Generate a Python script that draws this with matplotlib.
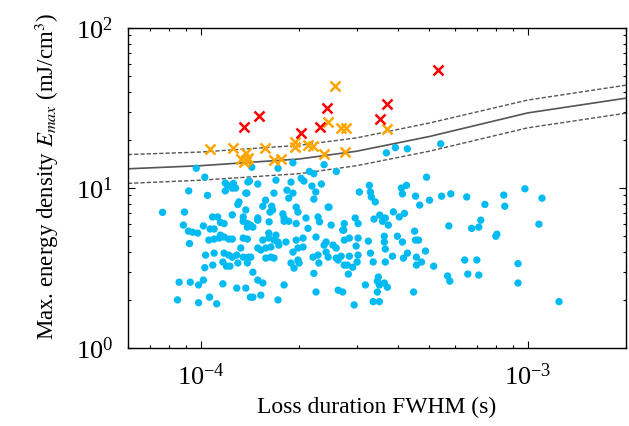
import numpy as np
import matplotlib
matplotlib.use("Agg")
import matplotlib.pyplot as plt
from matplotlib.ticker import LogLocator, NullFormatter

plt.rcParams['font.family'] = ['Liberation Serif', 'DejaVu Serif']
plt.rcParams['mathtext.fontset'] = 'stix'

# losses below threshold (FWHM in microseconds, E_max in mJ/cm^3)
blue_fwhm_us = [
    97, 103, 92, 105, 119, 121, 126, 125, 119, 128, 138.5, 139.5, 131, 130, 76.5, 89.3, 108.8, 112.8, 125, 135,
    88.6, 102, 107, 110, 115, 118, 91.8, 94.5, 98, 92.5, 106, 110, 114, 115, 118, 122, 125, 135, 139, 135,
    139, 132.7, 103.6, 110, 118, 122, 125, 129, 135, 140, 103, 109, 117, 120, 123, 130, 139, 86, 93, 98.6,
    102, 117, 129, 137.5, 85, 98.6, 106.5, 112, 142,
    143.4, 172.5, 191.6, 238.6, 215, 222, 260, 141, 149.6, 170, 189, 203, 207, 219, 234, 167.6, 183.7, 186,
    191.6, 225, 222, 137.5, 158, 155, 165, 163, 166, 178.5, 196, 198.5, 228.6, 245.5, 247, 137.5, 149.6, 180, 210,
    149.6, 162, 180, 186, 196, 213, 231, 139, 142, 144.5, 250.7, 274, 161.6, 170, 172.5, 167.6, 155, 161.6,
    182.4, 196, 205.7, 225.4, 149.6, 152.8, 158.3, 164, 173.5, 198.5, 191.6, 205.7, 238.6, 242, 254, 259.7,
    142.4, 158.3, 164, 167.6, 189, 193, 198.5, 200, 220.7, 228.6, 230, 242, 245.5, 259.7, 263.4, 275, 144.5,
    222, 149.6, 155, 180, 144.5, 152.8, 172.5, 225.4, 263.4, 272,
    369.8, 394, 428.6, 542, 490.7, 328, 305.8, 411, 426, 414, 330.5, 332.6, 342, 454, 467.6, 501, 545.6, 582,
    651, 740, 845, 851, 981, 1106, 388.5, 420, 405, 297, 303, 275, 272, 339, 353, 367, 360, 375, 574, 674,
    708.7, 718.7, 1082, 799, 805, 275, 285, 303, 299, 325.7, 364.5, 364.5, 367, 399.7, 414, 451, 454, 464,
    487, 330.5, 386, 417, 429, 285, 303, 301, 269, 337, 367, 457, 473.6, 457, 516, 642, 699, 656, 708.7,
    569, 578, 934, 934, 281, 291.7, 283, 349.5, 347, 352, 364.5, 372.4, 319, 347, 448, 294.7, 337, 352, 1247,
]
blue_emax = [
    13.3, 11.7, 9.6, 9.0, 10.75, 10.4, 10.7, 10.0, 9.6, 10.0, 9.3, 10.9, 8.2, 7.9, 7.05, 7.08, 6.6, 6.6, 6.8, 6.6,
    5.87, 5.8, 5.55, 5.55, 6.1, 6.0, 5.38, 5.3, 5.23, 4.5, 4.73, 4.8, 4.87, 5.08, 4.94, 4.8, 4.8, 6.2, 6.0, 4.87,
    4.8, 4.22, 3.81, 3.92, 3.92, 3.81, 3.7, 3.81, 3.7, 3.7, 3.18, 3.3, 3.45, 3.25, 3.25, 3.4, 3.4, 2.58, 2.58, 2.48,
    2.66, 2.52, 2.37, 2.37, 2.0, 1.92, 2.08, 1.89, 2.08,
    13.5, 13.3, 14.4, 14.0, 12.7, 12.3, 12.7, 11.06, 10.6, 11.2, 10.9, 11.5, 11.06, 10.3, 10.6, 9.3, 9.7, 8.65,
    9.3, 9.45, 8.53, 9.3, 8.4, 7.7, 7.7, 7.08, 7.3, 6.9, 7.6, 7.08, 6.6, 7.6, 7.6, 7.3, 6.5, 6.5, 6.5,
    6.3, 6.15, 6.2, 6.2, 6.0, 5.6, 6.15, 5.7, 5.87, 5.7, 5.87, 5.46, 5.23, 5.08, 4.6, 4.73, 4.73, 4.87,
    4.6, 4.73, 4.87, 4.94, 4.22, 4.1, 4.22, 4.28, 4.4, 4.22, 3.98, 4.28, 4.4, 4.6, 4.4, 4.22,
    3.7, 3.65, 3.7, 3.65, 3.4, 3.16, 3.55, 3.4, 3.7, 3.81, 3.4, 3.98, 3.7, 3.65, 3.55, 3.3, 2.98,
    2.93, 2.66, 2.55, 2.48, 2.08, 2.14, 2.0, 2.24, 2.3, 2.24,
    16.6, 17.9, 17.6, 18.9, 11.7, 10.4, 9.45, 10.0, 10.4, 9.2, 9.45, 8.8, 8.2, 8.9, 7.83, 8.4, 8.9, 9.2,
    8.8, 7.9, 9.04, 7.7, 9.9, 8.65, 7.1, 6.95, 6.6, 6.5, 6.0, 6.0, 5.46, 6.4, 6.78, 6.5, 6.2, 5.87, 5.8, 5.6,
    5.7, 6.3, 5.95, 5.0, 5.15, 4.73, 4.87, 4.87, 4.34, 4.66, 5.0, 4.6, 4.16, 5.0, 4.6, 5.38, 4.73, 4.73,
    4.04, 3.92, 3.75, 3.65, 3.92, 3.75, 3.81, 3.45, 3.75, 3.45, 3.45, 3.7, 3.45, 3.3, 3.25, 3.55, 3.55, 2.9, 2.86,
    2.82, 2.62, 3.37, 2.55, 3.3, 3.2, 2.9, 2.78, 2.62, 2.48, 2.55, 2.4, 2.48, 2.24, 2.24, 1.86, 1.95, 1.95, 1.95,
]

orange_fwhm_us = [106.6, 125.4, 137.5, 132.7, 137.5, 135.6, 139.5, 157, 167.6, 176, 194, 194, 213, 221,
                  238.6, 245.5, 257, 269, 278.7, 276.7, 372.4]
orange_emax = [17.6, 17.8, 16.5, 15.2, 14.96, 14.5, 15.4, 17.8, 14.96, 15.2, 19.4, 18.0, 18.56, 18.3,
               16.3, 25.8, 43.5, 23.6, 23.7, 16.8, 23.3]

red_fwhm_us = [135.6, 150.9, 202.8, 231.9, 243.7, 354.5, 372.4, 532]
red_emax = [24.0, 28.2, 22.0, 24.0, 31.6, 27.0, 33.5, 54.6]

# threshold curve and its band
line_fwhm = [6e-5, 1e-4, 2e-4, 3e-4, 5e-4, 1e-3, 2e-3]
line_mid = [13.2, 13.8, 15.2, 17.0, 21.0, 29.5, 36.5]
line_up = [16.2, 16.8, 18.5, 20.6, 25.5, 35.5, 44.0]
line_lo = [10.7, 11.2, 12.3, 13.8, 17.0, 23.8, 29.4]

fig = plt.figure(figsize=(6.29, 4.26), dpi=100)
ax = fig.add_axes([0.2035, 0.183, 0.792, 0.751])

ax.plot(line_fwhm, line_up, '--', color='#555555', lw=1.0, dashes=(3, 1.5))
ax.plot(line_fwhm, line_mid, '-', color='#555555', lw=1.2)
ax.plot(line_fwhm, line_lo, '--', color='#555555', lw=1.0, dashes=(3, 1.5))

ax.scatter(np.array(blue_fwhm_us) * 1e-6, blue_emax, s=28, color='#00BBF2', edgecolors='none', zorder=3)
ax.plot(np.array(orange_fwhm_us) * 1e-6, orange_emax, 'x', color='#FFA500', ms=6.5, mew=1.8, zorder=4)
ax.plot(np.array(red_fwhm_us) * 1e-6, red_emax, 'x', color='#FF0000', ms=6.5, mew=1.8, zorder=4)

ax.set_xscale('log')
ax.set_yscale('log')
ax.set_xlim(6e-5, 2e-3)
ax.set_ylim(1, 100)

ax.xaxis.set_minor_locator(LogLocator(base=10, subs=np.arange(2, 10)))
ax.yaxis.set_minor_locator(LogLocator(base=10, subs=np.arange(2, 10)))
ax.xaxis.set_minor_formatter(NullFormatter())
ax.yaxis.set_minor_formatter(NullFormatter())

ax.tick_params(which='both', direction='in', top=True, right=True, labelsize=19, width=0.8)
ax.tick_params(which='major', length=5)
ax.tick_params(axis='x', which='major', pad=11)
ax.tick_params(axis='y', which='major', pad=11)
ax.tick_params(which='minor', length=2.5)
for s in ax.spines.values():
    s.set_linewidth(1.0)

ax.set_xlabel('Loss duration FWHM (s)', fontsize=17, labelpad=5)
ax.set_ylabel('Max. energy density $E_{max}$ (mJ/cm$^3$)', fontsize=16.5)
ax.yaxis.set_label_coords(-0.135, 0.535)

fig.savefig('out.png', dpi=100)
